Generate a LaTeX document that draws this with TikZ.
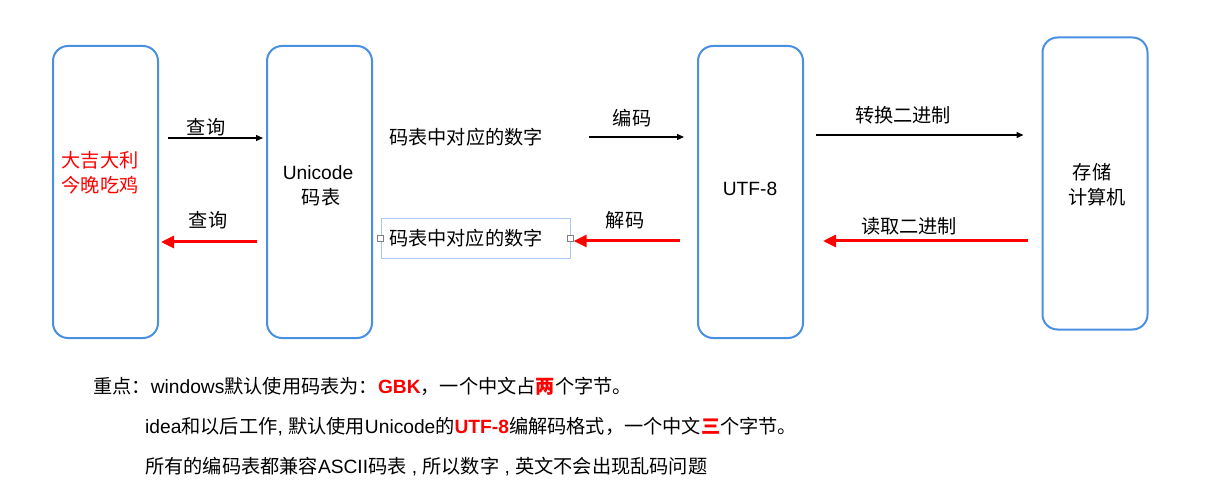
\documentclass[tikz,border=0pt]{standalone}
\usepackage{fontspec}
\setmainfont{Liberation Sans}
\newfontfamily\cjk{Noto Sans CJK SC}
\newcommand\zh[1]{{\cjk #1}}
\usetikzlibrary{arrows.meta,calc}
\definecolor{boxblue}{HTML}{4A90E2}
\definecolor{lightblue}{HTML}{A9C8F2}
\definecolor{hired}{HTML}{FF0000}
\tikzset{
  bigbox/.style={draw=boxblue, line width=2pt, rounded corners=15pt, minimum width=105pt, minimum height=292pt, align=center, inner sep=0pt},
  lbl/.style={inner sep=0pt},
  blk/.style={line width=1.3pt, -{Triangle[length=7pt,width=6pt]}},
  redarr/.style={draw=hired, line width=3pt, -{Triangle[length=13pt,width=12pt]}, hired},
  handle/.style={draw=gray, fill=white, line width=0.6pt, minimum size=6pt, inner sep=0pt},
  note/.style={anchor=west, inner sep=0pt}
}
\begin{document}
\begin{tikzpicture}[x=1pt,y=-1pt]
\fontsize{19.2}{25}\selectfont
\useasboundingbox (0,0) rectangle (1209,494);
% boxes
\node[bigbox] (b1) at (105.5,192) {};
\node[lbl, text=hired, align=center] (b1t) at (100,173) {\zh{大吉大利}\\\zh{今晚吃鸡}};
\node[bigbox] (b2) at (319.5,192) {};
\node[lbl, align=center] (b2t) at (318,186) {Unicode\\\hspace*{6pt}\zh{码表}};
\node[bigbox] (b3) at (750.5,192) {};
\node[lbl] (b3t) at (750,189) {UTF-8};
\node[bigbox] (b4) at (1095,183.5) {};
\node[lbl, align=center] (b4t) at (1092,185) {\zh{存储}\\\hspace*{10pt}\zh{计算机}};
% middle texts
\node[lbl] (t1) at (466,137) {\zh{码表中对应的数字}};
\node[draw=lightblue, line width=0.8pt, minimum height=40pt, text width=173pt, inner xsep=8pt, inner ysep=0pt, align=left] (t2) at (475.5,238) {\zh{码表中对应的数字}};
\node[handle] (h1) at (t2.west) {};
\node[handle] (h2) at (t2.east) {};
% arrows
\draw[blk] ($(b1.east |- 0,138)+(9,0)$) -- ($(b2.west |- 0,138)+(-3,0)$);
\node[lbl] (l1) at (206,127) {\zh{查询}};
\draw[redarr] ($(b2.west |- 0,242)+(-9,0)$) -- ($(b1.east |- 0,242)+(2,0)$);
\node[lbl] (l2) at (208,220) {\zh{查询}};
\draw[blk] ($(t1.east)+(46,0)$) -- ($(b3.west |- 0,137)+(-13,0)$);
\node[lbl] (l3) at (632,118) {\zh{编码}};
\draw[redarr] ($(b3.west |- 0,241)+(-17,0)$) -- (h2.east |- 0,241);
\node[lbl] (l4) at (625,220) {\zh{解码}};
\draw[blk] ($(b3.east |- 0,135)+(12,0)$) -- ($(b4.west |- 0,135)+(-18,0)$);
\node[lbl] (l5) at (903,115) {\zh{转换二进制}};
\draw[redarr] ($(b4.west |- 0,241)+(-14,0)$) -- ($(b3.east |- 0,241)+(19,0)$);
\node[lbl] (l6) at (909,226) {\zh{读取二进制}};
% notes
\node[note] (n1) at (93,386) {\zh{重点：}windows\zh{默认使用码表为：}{\color{hired}\bfseries GBK}\zh{，一个中文占}{\color{hired}\cjk\bfseries 两}\zh{个字节。}};
\node[note] (n2) at (145,427) {idea\zh{和以后工作}, \zh{默认使用}Unicode\zh{的}{\color{hired}\bfseries UTF-8}\zh{编解码格式，一个中文}{\color{hired}\cjk\bfseries 三}\zh{个字节。}};
\node[note] (n3) at (145,467) {\zh{所有的编码表都兼容}ASCII\zh{码表} , \zh{所以数字} , \zh{英文不会出现乱码问题}};
\end{tikzpicture}
\end{document}
